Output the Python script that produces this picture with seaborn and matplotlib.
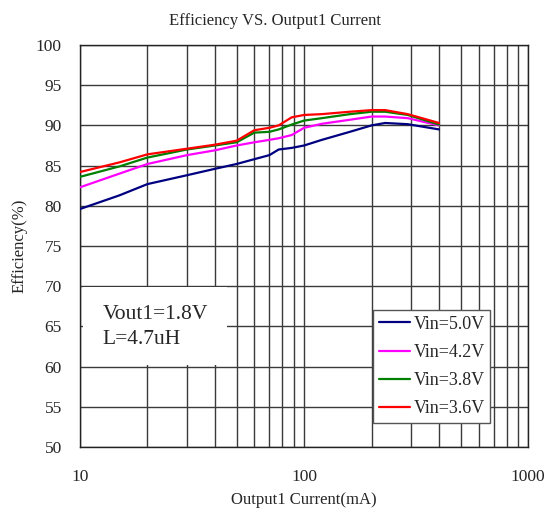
import numpy as np
import pandas as pd
import matplotlib
matplotlib.use("Agg")
import matplotlib.pyplot as plt
from matplotlib.patches import Rectangle
import seaborn as sns

current = [10, 15, 20, 30, 40, 50, 60, 70, 77, 88, 100, 120, 160, 200, 230, 290, 400]
eff_50 = [79.6, 81.3, 82.7, 83.8, 84.6, 85.2, 85.8, 86.3, 87.0, 87.2, 87.5, 88.2, 89.2, 90.0, 90.3, 90.15, 89.5]
eff_42 = [82.3, 84.0, 85.2, 86.3, 86.9, 87.5, 87.9, 88.2, 88.4, 88.8, 89.7, 90.2, 90.7, 91.1, 91.1, 90.9, 90.0]
eff_38 = [83.6, 84.9, 86.0, 87.0, 87.5, 87.9, 89.1, 89.2, 89.5, 90.1, 90.6, 90.9, 91.4, 91.7, 91.7, 91.3, 90.1]
eff_36 = [84.2, 85.4, 86.4, 87.1, 87.6, 88.1, 89.4, 89.7, 90.0, 91.0, 91.3, 91.4, 91.7, 91.9, 91.9, 91.4, 90.3]
labels = ["Vin=5.0V", "Vin=4.2V", "Vin=3.8V", "Vin=3.6V"]
colors = ["#000080", "#FF00FF", "#008000", "#FF0000"]

rows = []
for lab, vals in zip(labels, [eff_50, eff_42, eff_38, eff_36]):
    for c, v in zip(current, vals):
        rows.append({"current": c, "eff": v, "vin": lab})
df = pd.DataFrame(rows)

sns.set_style("white")
plt.rcParams['font.family'] = ['Liberation Serif', 'DejaVu Serif']

fig = plt.figure(figsize=(5.44, 5.09), dpi=100)
fig.subplots_adjust(left=0.147, right=0.971, top=0.9116, bottom=0.1218)
ax = fig.add_subplot(111)

sns.lineplot(data=df, x="current", y="eff", hue="vin", hue_order=labels,
             palette=colors, linewidth=1.6, ax=ax, zorder=3)

ax.set_xscale("log")
ax.set_xlim(10, 1000)
ax.set_ylim(50, 100)
ax.set_yticks(np.arange(50, 101, 5))
ax.set_xticks([10, 100, 1000])
ax.set_xticklabels(["10", "100", "1000"])
ax.xaxis.set_minor_locator(matplotlib.ticker.LogLocator(base=10, subs=np.arange(2, 10)))
ax.xaxis.set_minor_formatter(matplotlib.ticker.NullFormatter())
ax.grid(True, which="both", axis="x", color="#3a3a3a", linewidth=1)
ax.grid(True, which="major", axis="y", color="#3a3a3a", linewidth=1)
ax.tick_params(axis="both", which="both", length=0, labelsize=12.5)
ax.tick_params(axis="x", pad=16)
ax.tick_params(axis="y", pad=13)
for s in ax.spines.values():
    s.set_color("#222222")
    s.set_linewidth(1)

ax.set_xlabel("Output1 Current(mA)", fontsize=12, labelpad=5)
ax.set_ylabel("Efficiency(%)", fontsize=12, labelpad=6)
fig.text(0.505, 0.958, "Efficiency VS. Output1 Current", ha="center", va="center", fontsize=12)

leg = ax.legend(loc="upper left", bbox_to_anchor=(0.654, 0.34),
                fontsize=13, frameon=True, fancybox=False, edgecolor="#555555",
                framealpha=1, borderaxespad=0, borderpad=0.3, handlelength=1.75,
                handletextpad=0.2, labelspacing=0.62)
leg.get_frame().set_linewidth(1)
leg.set_zorder(5)

# white label box that hides the grid
ax.add_patch(Rectangle((0.007, 0.204), 0.321, 0.194, transform=ax.transAxes,
                       facecolor="white", edgecolor="none", zorder=4))
ax.text(0.051, 0.299, "Vout1=1.8V\nL=4.7uH", transform=ax.transAxes, fontsize=15.5,
        va="center", ha="left", linespacing=1.4, zorder=5)

fig.savefig("out.png", dpi=100)
